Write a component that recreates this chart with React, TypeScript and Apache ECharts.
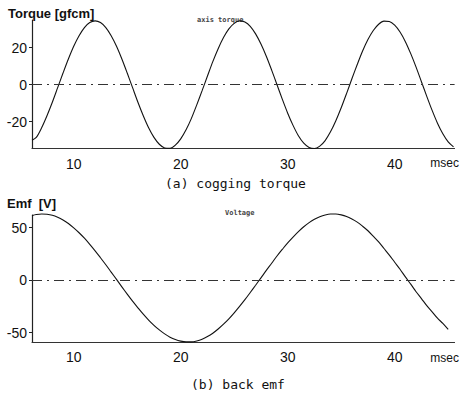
import React, { useEffect, useRef } from "react";
import * as echarts from "echarts";

// (a) cogging torque  [gfcm] vs time [msec]
const torqueTime = [6.1, 6.5, 7, 7.5, 8, 8.5, 9, 9.5, 10, 10.5, 11, 11.5, 12, 12.5, 13, 13.5, 14, 14.5, 15, 15.5, 16, 16.5, 17, 17.5, 18, 18.5, 19, 19.5, 20, 20.5, 21, 21.5, 22, 22.5, 23, 23.5, 24, 24.5, 25, 25.5, 26, 26.5, 27, 27.5, 28, 28.5, 29, 29.5, 30, 30.5, 31, 31.5, 32, 32.5, 33, 33.5, 34, 34.5, 35, 35.5, 36, 36.5, 37, 37.5, 38, 38.5, 39, 39.5, 40, 40.5, 41, 41.5, 42, 42.5, 43, 43.5, 44, 44.5, 45, 45.5];
const torqueValues = [-30, -28.5, -23.3, -16.8, -9.5, -1.6, 6.3, 13.9, 20.8, 26.5, 30.9, 33.6, 34.5, 33.6, 30.9, 26.5, 20.8, 13.9, 6.3, -1.6, -9.5, -16.8, -23.3, -28.5, -32.2, -34.2, -34.4, -32.7, -29.3, -24.4, -18.2, -10.9, -3.2, 4.7, 12.5, 19.5, 25.5, 30.2, 33.2, 34.5, 33.9, 31.6, 27.5, 22, 15.4, 7.9, 0, -7.9, -15.4, -22, -27.6, -31.6, -33.9, -34.5, -33.2, -30.2, -25.5, -19.5, -12.5, -4.8, 3.2, 10.9, 18.2, 24.4, 29.3, 32.7, 34.4, 34.2, 32.2, 28.5, 23.3, 16.8, 9.5, 1.6, -6.3, -13.9, -20.8, -26.5, -30.9, -33.6];

// (b) back emf [V] vs time [msec]
const emfTime = [6.1, 6.5, 7, 7.5, 8, 8.5, 9, 9.5, 10, 10.5, 11, 11.5, 12, 12.5, 13, 13.5, 14, 14.5, 15, 15.5, 16, 16.5, 17, 17.5, 18, 18.5, 19, 19.5, 20, 20.5, 21, 21.5, 22, 22.5, 23, 23.5, 24, 24.5, 25, 25.5, 26, 26.5, 27, 27.5, 28, 28.5, 29, 29.5, 30, 30.5, 31, 31.5, 32, 32.5, 33, 33.5, 34, 34.5, 35, 35.5, 36, 36.5, 37, 37.5, 38, 38.5, 39, 39.5, 40, 40.5, 41, 41.5, 42, 42.5, 43, 43.5, 44, 44.5, 45];
const emfValues = [61.4, 62.4, 63, 62.7, 61.7, 59.8, 57.2, 53.9, 49.8, 45.1, 39.9, 34.1, 27.9, 21.3, 14.6, 7.6, 0.6, -6.5, -13.4, -20.1, -26.4, -32.5, -38.1, -43.1, -47.5, -51.3, -54.4, -56.7, -58.2, -58.9, -58.9, -58, -56.3, -53.8, -50.6, -46.6, -42, -36.9, -31.2, -25.1, -18.7, -11.8, -4.9, 2.1, 9.2, 16, 22.9, 29.3, 35.5, 41, 46.2, 50.8, 54.7, 57.9, 60.3, 62, 62.9, 62.9, 62.1, 60.6, 58.2, 55.2, 51.3, 47, 41.8, 36.4, 30.1, 23.8, 17, 10.3, 3, -3.9, -11.1, -17.6, -24.4, -30.2, -36.3, -41.3, -47];

const xTicks = [10, 20, 30, 40];
const torqueTicks = [-20, 0, 20];
const emfTicks = [-50, 0, 50];

const FONT = "Liberation Sans, Arial, sans-serif";
const MONO = "DejaVu Sans Mono, monospace";

export default function App() {
  const ref = useRef<HTMLDivElement>(null);

  useEffect(() => {
    document.body.style.margin = "0";
    if (!ref.current) return;
    const chart = echarts.init(ref.current, undefined, { renderer: "svg" });

    const xAxisBase = (gridIndex: number) => ({
      gridIndex,
      type: "value" as const,
      min: 6.1,
      max: 45.6,
      axisLine: { show: true, onZero: false, lineStyle: { color: "#333", width: 1 } },
      axisTick: { show: false },
      splitLine: { show: false },
      axisLabel: {
        customValues: xTicks,
        margin: 8,
        fontSize: 14,
        color: "#111",
        fontFamily: FONT,
      },
    });

    const yAxisBase = (gridIndex: number, min: number, max: number, ticks: number[]) => ({
      gridIndex,
      type: "value" as const,
      min,
      max,
      axisLine: { show: true, onZero: false, lineStyle: { color: "#222", width: 1.2 } },
      axisTick: { show: true, customValues: ticks, length: 3, lineStyle: { color: "#222" } },
      splitLine: { show: false },
      axisLabel: {
        customValues: ticks,
        margin: 5,
        fontSize: 14,
        color: "#111",
        fontFamily: FONT,
      },
    });

    const zeroLine = {
      silent: true,
      symbol: "none",
      label: { show: false },
      lineStyle: { color: "#333", width: 1, type: [10, 5, 2, 5] },
      data: [{ yAxis: 0 }],
    };

    chart.setOption({
      animation: false,
      backgroundColor: "#fff",
      grid: [
        { left: 32, top: 20, width: 422.6, height: 128.5 },
        { left: 32, top: 215, width: 422.6, height: 127 },
      ],
      xAxis: [xAxisBase(0), xAxisBase(1)],
      yAxis: [
        yAxisBase(0, -34.5, 35, torqueTicks),
        yAxisBase(1, -59, 62, emfTicks),
      ],
      series: [
        {
          type: "line",
          xAxisIndex: 0,
          yAxisIndex: 0,
          data: torqueTime.map((t, i) => [t, torqueValues[i]]),
          smooth: 0.3,
          clip: false,
          showSymbol: false,
          lineStyle: { color: "#111", width: 1.1 },
          markLine: zeroLine,
        },
        {
          type: "line",
          xAxisIndex: 1,
          yAxisIndex: 1,
          data: emfTime.map((t, i) => [t, emfValues[i]]),
          smooth: 0.3,
          clip: false,
          showSymbol: false,
          lineStyle: { color: "#111", width: 1.1 },
          markLine: zeroLine,
        },
      ],
      graphic: [
        { type: "text", left: 8, top: 7, style: { text: "Torque [gfcm]", font: `bold 13px ${FONT}`, fill: "#111" } },
        { type: "text", left: 7, top: 197, style: { text: "Emf  [V]", font: `bold 13px ${FONT}`, fill: "#111" } },
        { type: "text", right: 1, top: 157, style: { text: "msec", font: `12px ${FONT}`, fill: "#111" } },
        { type: "text", right: 1, top: 352, style: { text: "msec", font: `12px ${FONT}`, fill: "#111" } },
        { type: "text", left: 165, top: 177, style: { text: "(a) cogging torque", font: `13px ${MONO}`, fill: "#111" } },
        { type: "text", left: 191, top: 378, style: { text: "(b) back emf", font: `13px ${MONO}`, fill: "#111" } },
        { type: "text", left: 197, top: 16, style: { text: "axis torque", font: `bold 7px ${MONO}`, fill: "#444" } },
        { type: "text", left: 225, top: 209, style: { text: "Voltage", font: `bold 7px ${MONO}`, fill: "#444" } },
      ],
    });

    return () => chart.dispose();
  }, []);

  return <div ref={ref} style={{ width: 460, height: 397 }} />;
}
